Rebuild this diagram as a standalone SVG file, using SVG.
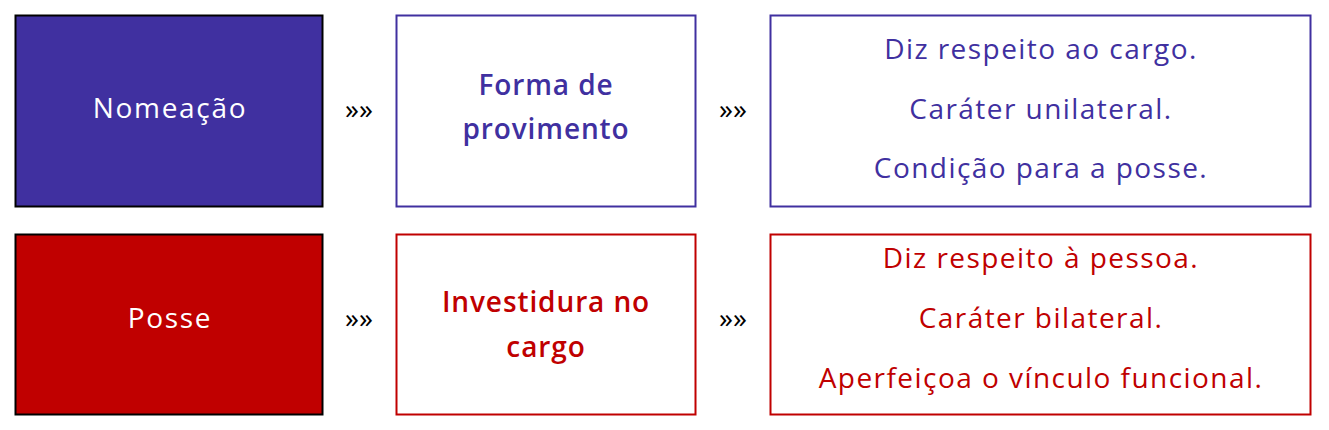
<svg xmlns="http://www.w3.org/2000/svg" width="1329" height="430" viewBox="0 0 1329 430">
<style>
text{font-family:"Open Sans","Noto Sans",sans-serif;text-anchor:middle}
.main{font-size:28px;fill:#fff;letter-spacing:1.7px}
.mid{font-size:28px;font-weight:600;letter-spacing:0.9px}
.desc{font-size:28px;letter-spacing:1.45px}
.sep{font-size:28px;fill:#000}
.p{fill:#4030A0}
.r{fill:#C00000}
</style>
<rect width="1329" height="430" fill="#fff"/>
<g id="nomeacao">
<rect x="15.5" y="15.5" width="307" height="191" fill="#4030A0" stroke="#000" stroke-width="2"/>
<text class="main" x="170" y="118">Nomeação</text>
</g>
<g id="forma">
<rect x="396.5" y="15.5" width="299" height="191" fill="#fff" stroke="#4030A0" stroke-width="2"/>
<text class="mid p" x="546" y="95">Forma de</text>
<text class="mid p" x="546" y="139">provimento</text>
</g>
<g id="desc1">
<rect x="770.5" y="15.5" width="540" height="191" fill="#fff" stroke="#4030A0" stroke-width="2"/>
<text class="desc p" x="1041" y="59">Diz respeito ao cargo.</text>
<text class="desc p" x="1041" y="119">Caráter unilateral.</text>
<text class="desc p" x="1041" y="178">Condição para a posse.</text>
</g>
<g id="posse">
<rect x="15.5" y="234.5" width="307" height="180" fill="#C00000" stroke="#000" stroke-width="2"/>
<text class="main" x="170" y="328">Posse</text>
</g>
<g id="investidura">
<rect x="396.5" y="234.5" width="299" height="180" fill="#fff" stroke="#C00000" stroke-width="2"/>
<text class="mid r" x="546" y="312">Investidura no</text>
<text class="mid r" x="546" y="357">cargo</text>
</g>
<g id="desc2">
<rect x="770.5" y="234.5" width="540" height="180" fill="#fff" stroke="#C00000" stroke-width="2"/>
<text class="desc r" x="1041" y="268">Diz respeito à pessoa.</text>
<text class="desc r" x="1041" y="328">Caráter bilateral.</text>
<text class="desc r" x="1041" y="388">Aperfeiçoa o vínculo funcional.</text>
</g>
<g id="connectors">
<text class="sep" x="359" y="119">»»</text>
<text class="sep" x="733" y="119">»»</text>
<text class="sep" x="359" y="328">»»</text>
<text class="sep" x="733" y="328">»»</text>
</g>
</svg>
